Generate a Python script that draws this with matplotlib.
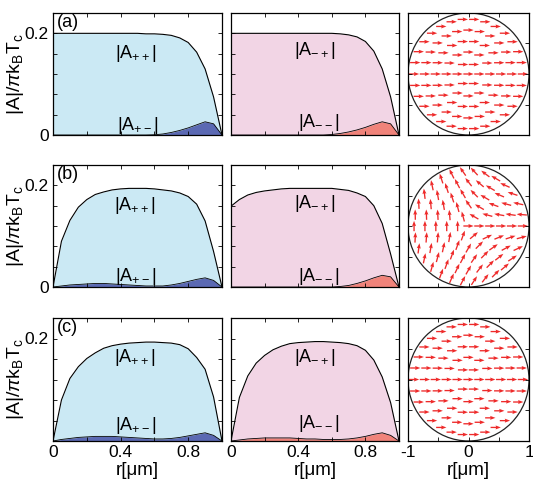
import numpy as np
import matplotlib
matplotlib.use('Agg')
import matplotlib.pyplot as plt
from matplotlib.patches import Circle

plt.rcParams['font.family'] = ['Liberation Sans', 'DejaVu Sans']
plt.rcParams['mathtext.fontset'] = 'custom'
plt.rcParams['mathtext.rm'] = 'Liberation Sans'
plt.rcParams['mathtext.it'] = 'Liberation Sans:italic'

# radial coordinate r [um]
r = [0.0, 0.05, 0.1, 0.15, 0.2, 0.25, 0.3, 0.35, 0.4, 0.45, 0.5,
     0.55, 0.6, 0.65, 0.7, 0.75, 0.8, 0.85, 0.9, 0.95, 1.0]

# row (a)
a_pp = [0.2, 0.2, 0.2, 0.2, 0.2, 0.2, 0.2, 0.2, 0.2, 0.2, 0.2,
        0.199, 0.199, 0.198, 0.196, 0.191, 0.182, 0.163, 0.13, 0.075, 0.0]
a_pm = [0, 0, 0, 0, 0, 0, 0, 0, 0, 0, 0,
        0, 0.0005, 0.002, 0.005, 0.009, 0.014, 0.02, 0.026, 0.022, 0.0]
a_mp = [0.2, 0.2, 0.2, 0.2, 0.2, 0.2, 0.2, 0.2, 0.2, 0.2, 0.2,
        0.2, 0.2, 0.199, 0.197, 0.193, 0.184, 0.165, 0.13, 0.075, 0.0]
a_mm = [0, 0, 0, 0, 0, 0, 0, 0, 0, 0, 0,
        0, 0.001, 0.003, 0.006, 0.01, 0.015, 0.021, 0.026, 0.022, 0.0]

# row (b)
b_pp = [0.0, 0.09, 0.131, 0.157, 0.172, 0.182, 0.187, 0.191, 0.193, 0.194, 0.194,
        0.194, 0.193, 0.191, 0.189, 0.185, 0.178, 0.163, 0.13, 0.07, 0.0]
b_pm = [0.0, 0.002, 0.004, 0.005, 0.006, 0.007, 0.007, 0.006, 0.005, 0.004, 0.003,
        0.002, 0.002, 0.002, 0.004, 0.007, 0.011, 0.015, 0.018, 0.013, 0.0]
b_mp = [0.159, 0.172, 0.181, 0.186, 0.189, 0.191, 0.193, 0.194, 0.194, 0.194, 0.194,
        0.194, 0.194, 0.192, 0.19, 0.185, 0.178, 0.16, 0.125, 0.065, 0.0]
b_mm = [0, 0, 0, 0, 0, 0, 0, 0, 0, 0, 0,
        0, 0, 0.001, 0.003, 0.007, 0.012, 0.018, 0.023, 0.02, 0.0]

# row (c)
c_pp = [0.0, 0.08, 0.122, 0.145, 0.161, 0.172, 0.181, 0.186, 0.189, 0.191, 0.192,
        0.193, 0.193, 0.192, 0.191, 0.188, 0.18, 0.163, 0.14, 0.086, 0.0]
c_pm = [0.0, 0.003, 0.005, 0.007, 0.008, 0.009, 0.009, 0.009, 0.008, 0.007, 0.006,
        0.005, 0.004, 0.004, 0.005, 0.007, 0.01, 0.013, 0.016, 0.011, 0.0]
c_mp = [0.0, 0.085, 0.127, 0.152, 0.167, 0.178, 0.185, 0.19, 0.192, 0.193, 0.194,
        0.194, 0.193, 0.192, 0.19, 0.186, 0.177, 0.158, 0.125, 0.075, 0.0]
c_mm = [0.0, 0.002, 0.004, 0.005, 0.006, 0.006, 0.006, 0.006, 0.005, 0.004, 0.004,
        0.003, 0.003, 0.003, 0.004, 0.006, 0.009, 0.013, 0.016, 0.011, 0.0]

# arrow sample rings (radius, count) for the vector plots
ring_r = [0.18, 0.36, 0.54, 0.72, 0.9]
ring_n = [6, 12, 18, 24, 30]

# direction (deg) of the arrows in (b), center first then ring by ring
b_center = 0
b_ring_angles = [
    [0, 150, 105, 90, 70, 40],
    [0, 165, 150, 125, 105, 95, 90, 80, 70, 60, 45, 25],
    [0, 170, 160, 150, 135, 120, 108, 100, 93, 90, 85, 78, 70, 62, 55, 45, 35, 22],
    [0, 172, 165, 157, 150, 140, 128, 118, 108, 100, 95, 92,
     90, 86, 80, 75, 70, 65, 60, 52, 45, 38, 28, 18],
    [0, 175, 168, 162, 156, 150, 143, 133, 125, 116, 108, 102, 97, 93, 91,
     90, 87, 82, 78, 74, 70, 66, 62, 57, 52, 45, 40, 33, 25, 15],
]

blue_light = '#cbe9f4'
blue_dark = '#5b69b3'
pink_light = '#f2d5e5'
pink_dark = '#f0837a'

W, H = 533, 487
cols = [(53, 222), (231, 399), (408, 529)]
rows = [(13, 135), (165, 287), (318, 441)]

def box(c, rw):
    x0, x1 = c
    y0, y1 = rw
    return [x0 / W, 1 - y1 / H, (x1 - x0) / W, (y1 - y0) / H]

fig = plt.figure(figsize=(W / 100, H / 100), dpi=100)

def style(ax):
    ax.tick_params(direction='in', top=True, right=True, length=3, width=0.6,
                   labelsize=12.5, pad=3)
    for s in ax.spines.values():
        s.set_linewidth(0.9)

def profile(ax, big, small, c1, c2, lab1, lab2, pos1, pos2):
    ax.fill_between(r, 0, big, color=c1, lw=0)
    ax.plot(r, big, 'k', lw=0.8)
    ax.fill_between(r, 0, small, color=c2, lw=0)
    ax.plot(r, small, 'k', lw=0.6)
    ax.set_xlim(0, 1)
    ax.set_ylim(0, 0.24)
    ax.set_xticks([0, 0.2, 0.4, 0.6, 0.8, 1.0])
    ax.set_yticks([0, 0.04, 0.08, 0.12, 0.16, 0.2, 0.24])
    ax.text(pos1[0], pos1[1], lab1, ha='center', va='center', fontsize=13)
    ax.text(pos2[0], pos2[1], lab2, ha='center', va='center', fontsize=13)
    style(ax)

def field(ax, angles):
    xs, ys, us, vs = [0.0], [0.0], [], []
    us.append(np.cos(np.radians(angles[0])))
    vs.append(np.sin(np.radians(angles[0])))
    for k, (rr, n) in enumerate(zip(ring_r, ring_n)):
        for j in range(n):
            phi = 2 * np.pi * j / n
            xs.append(rr * np.cos(phi))
            ys.append(rr * np.sin(phi))
            th = np.radians(angles[1][k][j])
            us.append(np.cos(th))
            vs.append(np.sin(th))
    L = 0.17
    ax.quiver(xs, ys, L * np.array(us), L * np.array(vs), color='#ee2a2a',
              angles='xy', scale_units='xy', scale=1, pivot='middle',
              width=0.011, headwidth=3, headlength=4, headaxislength=3.6)
    ax.add_patch(Circle((0, 0), 1, fill=False, ec='#222222', lw=0.9))
    ax.set_xlim(-1, 1)
    ax.set_ylim(-1, 1)
    ax.set_xticks([-1, -0.5, 0, 0.5, 1])
    ax.set_yticks([-1, -0.5, 0, 0.5, 1])
    ax.set_yticklabels([])
    style(ax)

uniform = (0, [[0] * n for n in ring_n])
fields = [uniform, (b_center, b_ring_angles), uniform]
data = [(a_pp, a_pm, a_mp, a_mm), (b_pp, b_pm, b_mp, b_mm), (c_pp, c_pm, c_mp, c_mm)]
letters = ['(a)', '(b)', '(c)']
lab_pos = [
    ((0.49, 0.161), (0.5, 0.018), (0.5, 0.167), (0.52, 0.024)),
    ((0.485, 0.161), (0.49, 0.02), (0.5, 0.165), (0.52, 0.02)),
    ((0.485, 0.163), (0.49, 0.031), (0.5, 0.163), (0.52, 0.035)),
]

for i in range(3):
    pp, pm, mp, mm = data[i]
    ax1 = fig.add_axes(box(cols[0], rows[i]))
    profile(ax1, pp, pm, blue_light, blue_dark,
            r'$\mathrm{|A_{++}|}$', r'$\mathrm{|A_{+-}|}$',
            lab_pos[i][0], lab_pos[i][1])
    ax1.text(0.025, 0.99, letters[i], transform=ax1.transAxes,
             ha='left', va='top', fontsize=13)
    if i < 2:
        ax1.set_yticklabels(['0', '', '', '', '', '0.2', ''])
    else:
        ax1.set_yticklabels(['', '', '', '', '', '0.2', ''])

    ax2 = fig.add_axes(box(cols[1], rows[i]))
    profile(ax2, mp, mm, pink_light, pink_dark,
            r'$\mathrm{|A_{-+}|}$', r'$\mathrm{|A_{--}|}$',
            lab_pos[i][2], lab_pos[i][3])
    ax2.set_yticklabels([])

    ax3 = fig.add_axes(box(cols[2], rows[i]))
    field(ax3, fields[i])

    for ax in (ax1, ax2):
        if i == 2:
            ax.set_xticklabels(['0', '', '0.4', '', '0.8', ''])
            ax.set_xlabel('r[μm]', fontsize=13.5, labelpad=1)
        else:
            ax.set_xticklabels([])
    if i == 2:
        ax3.set_xticklabels(['-1', '', '0', '', '1'])
        ax3.set_xlabel('r[μm]', fontsize=13.5, labelpad=1)
    else:
        ax3.set_xticklabels([])

    yc = 1 - (rows[i][0] + rows[i][1]) / 2 / H
    fig.text(15 / W, yc, r'$\mathrm{|A|/}\pi\mathrm{k_BT_c}$', rotation=90,
             ha='center', va='center', fontsize=14)

fig.savefig('out.png', dpi=100)
